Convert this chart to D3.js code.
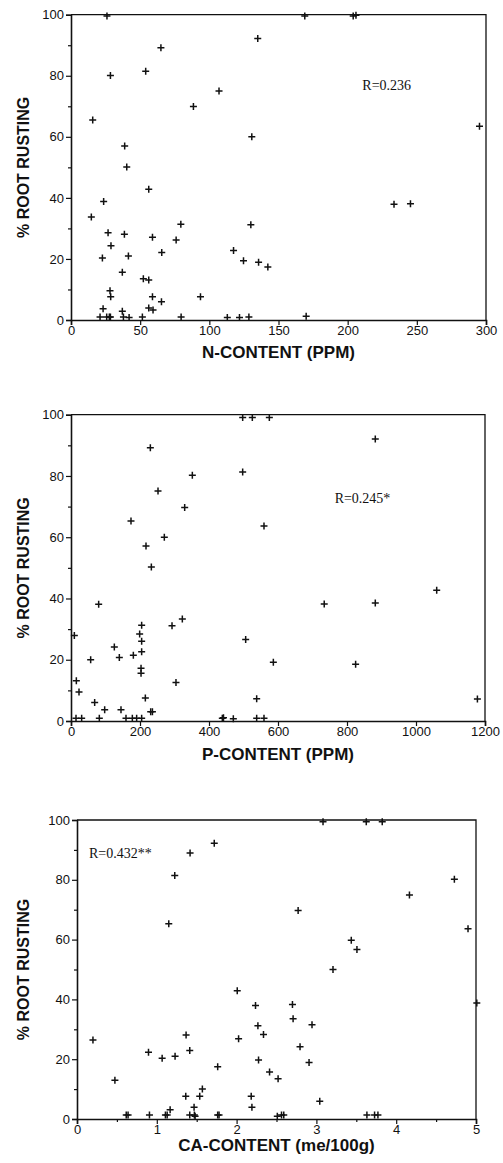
<!DOCTYPE html>
<html>
<head>
<meta charset="utf-8">
<script src="https://cdn.jsdelivr.net/npm/d3@7"></script>
<style>
  html, body { margin: 0; padding: 0; background: #fff; }
  svg { display: block; }
</style>
</head>
<body>
<script>
// % root rusting against soil nutrient content
const nPoints = [
  [26, 99.6], [135, 92.2], [65, 89.2], [54, 81.5], [28.5, 80.1], [107, 75], [88.5, 69.9],
  [15.7, 65.5], [130.7, 60], [38.8, 57], [40.3, 50.1], [56.2, 42.8], [23.6, 38.8],
  [14.7, 33.7], [79.4, 31.4], [130, 31.2], [26.8, 28.6], [38.6, 28.1], [58.9, 27.1],
  [76, 26.2], [28.9, 24.3], [117.5, 22.8], [41.5, 21], [65.6, 22.1], [22.7, 20.3],
  [124.7, 19.4], [135.6, 18.9], [142.3, 17.4], [37.1, 15.6], [52.3, 13.5], [56.2, 13.1],
  [28.2, 9.6], [28.7, 7.6], [58.9, 7.6], [93.6, 7.6], [65.4, 6], [23.2, 3.7], [56.2, 3.9],
  [59.3, 3.3], [37.1, 2.9], [21, 1], [25.8, 1], [27.7, 1], [28.5, 1], [37.9, 1], [42, 0.8],
  [51.6, 1], [79.6, 1], [113, 0.8], [121.8, 0.8], [128.6, 1], [169, 99.6], [204, 99.6],
  [206, 99.8], [295.3, 63.5], [233.5, 37.9], [245.4, 38.1], [170, 1.2]
];

const pPoints = [
  [497.6, 99.1], [525.6, 99.1], [574.9, 99.1], [230, 89.2], [497.6, 81.3], [351.7, 80.2],
  [252.2, 75.1], [329.5, 69.7], [173.9, 65.3], [559.4, 63.7], [270.5, 60], [217.4, 57.1],
  [232.9, 50.3], [80.2, 38.1], [204.8, 31.3], [322.7, 33.3], [292.8, 31.1], [199, 28.4],
  [9.7, 27.9], [204.8, 26], [125.6, 24.2], [506.3, 26.6], [140.1, 20.7], [57, 20],
  [180.7, 21.5], [204.8, 22.6], [203, 17.2], [203, 15.6], [586.5, 19.2], [15.5, 13.1],
  [304.3, 12.6], [23.2, 9.5], [215.5, 7.5], [538.2, 7.3], [68.6, 6], [97.6, 3.7],
  [144.9, 3.7], [231, 3], [236, 3], [14.5, 0.9], [30.9, 0.9], [82.1, 0.9], [159.4, 0.9],
  [177.8, 0.9], [190.3, 0.9], [204.8, 0.9], [438.6, 0.9], [442, 1.1], [470.5, 0.7],
  [538.2, 0.9], [559.4, 0.9], [882, 92.1], [734, 38.2], [882, 38.5], [1060, 42.7],
  [825, 18.5], [1178, 7.2]
];

const caPoints = [
  [1.72, 92.2], [1.417, 89], [1.225, 81.4], [1.15, 65.3], [2.008, 42.9], [2.237, 38],
  [2.267, 31.2], [2.337, 28.3], [1.367, 28.1], [2.025, 26.8], [0.2, 26.4], [1.413, 22.9],
  [0.896, 22.3], [1.229, 21], [1.067, 20.3], [2.275, 19.7], [1.763, 17.5], [2.413, 15.7],
  [2.52, 13.5], [0.475, 13], [1.571, 10], [1.363, 7.6], [1.538, 7.6], [2.183, 7.6],
  [1.467, 3.9], [2.192, 3.9], [1.167, 3.1], [0.617, 1.3], [0.64, 1.3], [0.908, 1.3],
  [1.108, 1.3], [1.13, 1.3], [1.413, 1.3], [1.471, 1.3], [1.48, 0.9], [1.763, 1.3],
  [1.78, 1.3], [2.51, 0.9], [3.083, 99.4], [3.625, 99.4], [3.825, 99.4], [4.729, 80.2],
  [4.166, 74.9], [2.771, 69.7], [4.9, 63.6], [3.437, 59.8], [3.508, 56.7], [3.208, 50],
  [5.01, 38.8], [2.7, 38.3], [2.708, 33.5], [2.945, 31.5], [2.795, 24.2], [2.908, 18.9],
  [3.042, 5.9], [2.563, 1.3], [2.591, 1.3], [3.633, 1.3], [3.729, 1.3], [3.771, 1.3]
];

const yTicks = [0, 20, 40, 60, 80, 100];
const yMinor = [10, 30, 50, 70, 90];
const nTicks = [0, 50, 100, 150, 200, 250, 300];
const pTicks = [0, 200, 400, 600, 800, 1000, 1200];
const caTicks = [0, 1, 2, 3, 4, 5];
const caMinor = [0.5, 1.5, 2.5, 3.5, 4.5];

const yTitle = "% ROOT RUSTING";
const xTitles = ["N-CONTENT (PPM)", "P-CONTENT (PPM)", "CA-CONTENT (me/100g)"];
const rLabels = ["R=0.236", "R=0.245*", "R=0.432**"];

const W = 503, H = 1163;

const panels = [
  { data: nPoints, domain: [0, 300], ticks: nTicks, minor: [], left: 71, right: 486, top: 14.7, bottom: 320,
    title: xTitles[0], titleDy: 38, r: rLabels[0], rx: 386.7, ry: 90, rAnchor: "middle" },
  { data: pPoints, domain: [0, 1200], ticks: pTicks, minor: [], left: 71, right: 485, top: 414.7, bottom: 721,
    title: xTitles[1], titleDy: 39, r: rLabels[1], rx: 362.5, ry: 503, rAnchor: "middle" },
  { data: caPoints, domain: [0, 5], ticks: caTicks, minor: caMinor, left: 77, right: 476, top: 820, bottom: 1119,
    title: xTitles[2], titleDy: 32, r: rLabels[2], rx: 89, ry: 858, rAnchor: "start" }
];

const svg = d3.select("body").append("svg")
  .attr("width", W)
  .attr("height", H)
  .attr("viewBox", `0 0 ${W} ${H}`);

const sans = "'Liberation Sans', Arial, Helvetica, sans-serif";
const serif = "'Liberation Serif', 'Times New Roman', serif";

panels.forEach((p) => {
  const x = d3.scaleLinear().domain(p.domain).range([p.left, p.right]);
  const y = d3.scaleLinear().domain([0, 100]).range([p.bottom, p.top]);
  const g = svg.append("g");

  // frame (top and right sides)
  g.append("path")
    .attr("d", `M${p.left},${p.top}H${p.right}V${p.bottom}`)
    .attr("fill", "none")
    .attr("stroke", "#111")
    .attr("stroke-width", 1.3);

  // y axis
  const ya = g.append("g")
    .attr("transform", `translate(${p.left},0)`)
    .call(d3.axisLeft(y).tickValues(yTicks).tickSize(5).tickPadding(2).tickFormat(d3.format("d")));
  ya.call((s) => s.selectAll(".tick text").attr("font-size", 13).attr("font-family", sans).attr("fill", "#111"));
  g.append("g")
    .attr("transform", `translate(${p.left},0)`)
    .call(d3.axisLeft(y).tickValues(yMinor).tickSize(3).tickFormat(""))
    .call((s) => s.select(".domain").remove());

  // x axis
  const xa = g.append("g")
    .attr("transform", `translate(0,${p.bottom})`)
    .call(d3.axisBottom(x).tickValues(p.ticks).tickSize(5).tickPadding(1).tickFormat(d3.format("d")));
  xa.call((s) => s.selectAll(".tick text").attr("font-size", 13).attr("font-family", sans).attr("fill", "#111"));
  if (p.minor.length) {
    g.append("g")
      .attr("transform", `translate(0,${p.bottom})`)
      .call(d3.axisBottom(x).tickValues(p.minor).tickSize(3).tickFormat(""))
      .call((s) => s.select(".domain").remove());
  }

  g.selectAll(".domain").attr("stroke", "#111").attr("stroke-width", 1.6);
  g.selectAll(".tick line").attr("stroke", "#111").attr("stroke-width", 1.2);

  // plus markers
  const s = 3.5;
  g.append("g")
    .selectAll("path")
    .data(p.data)
    .join("path")
    .attr("d", (d) => {
      const cx = x(d[0]), cy = y(d[1]);
      return `M${cx - s},${cy}H${cx + s}M${cx},${cy - s}V${cy + s}`;
    })
    .attr("stroke", "#111")
    .attr("stroke-width", 1.5)
    .attr("fill", "none");

  // titles
  g.append("text")
    .attr("x", (p.left + p.right) / 2)
    .attr("y", p.bottom + p.titleDy)
    .attr("text-anchor", "middle")
    .attr("font-family", sans)
    .attr("font-weight", "bold")
    .attr("font-size", 17)
    .attr("fill", "#111")
    .text(p.title);

  g.append("text")
    .attr("transform", `translate(29,${(p.top + p.bottom) / 2}) rotate(-90)`)
    .attr("text-anchor", "middle")
    .attr("font-family", sans)
    .attr("font-weight", "bold")
    .attr("font-size", 16)
    .attr("fill", "#111")
    .text(yTitle);

  g.append("text")
    .attr("x", p.rx)
    .attr("y", p.ry)
    .attr("text-anchor", p.rAnchor)
    .attr("font-family", serif)
    .attr("font-size", 14)
    .attr("fill", "#111")
    .text(p.r);
});
</script>
</body>
</html>
